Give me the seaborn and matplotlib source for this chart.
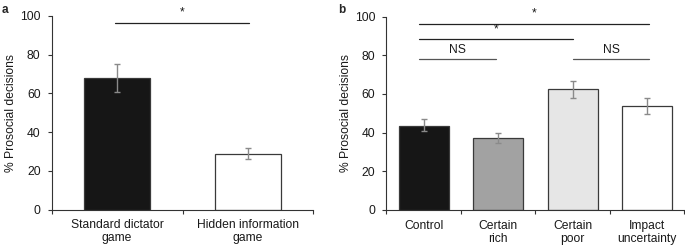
import matplotlib
matplotlib.use("Agg")
import matplotlib.pyplot as plt
import seaborn as sns
import pandas as pd
import numpy as np
from matplotlib.ticker import FixedLocator

sns.set_theme(style="ticks")
plt.rcParams['font.family'] = ['Liberation Sans', 'DejaVu Sans']

# Panel a data
cats_a = ["Standard dictator\ngame", "Hidden information\ngame"]
vals_a = [67.7, 28.7]
err_lo_a = [60.5, 26.0]
err_hi_a = [75.1, 31.6]
colors_a = ["#161616", "#ffffff"]

# Panel b data
cats_b = ["Control", "Certain\nrich", "Certain\npoor", "Impact\nuncertainty"]
vals_b = [43.6, 37.2, 62.4, 53.8]
err_lo_b = [40.6, 34.5, 57.8, 49.8]
err_hi_b = [46.9, 40.0, 66.9, 57.8]
colors_b = ["#161616", "#a2a2a2", "#e6e6e6", "#ffffff"]

yticks = [0, 20, 40, 60, 80, 100]

fig = plt.figure(figsize=(6.85, 2.47), dpi=100)
ax_a = fig.add_axes([0.0755, 0.151, 0.382, 0.785])
ax_b = fig.add_axes([0.564, 0.150, 0.435, 0.783])

FS = 8.7
TXT = "#1a1a1a"


def style_axes(ax, cats, vals, lo, hi, colors, width):
    df = pd.DataFrame({"cat": cats, "val": vals})
    sns.barplot(data=df, x="cat", y="val", hue="cat", palette=colors,
                order=cats, hue_order=cats, legend=False, errorbar=None,
                width=width, edgecolor="#3a3a3a", linewidth=0.9, ax=ax, saturation=1)
    vals_arr = np.array(vals)
    yerr = np.vstack([vals_arr - np.array(lo), np.array(hi) - vals_arr])
    ax.errorbar(np.arange(len(cats)), vals_arr, yerr=yerr, fmt="none",
                ecolor="#8a8a8a", elinewidth=1.0, capsize=2.5, capthick=1.0, zorder=5)
    n = len(cats)
    ax.set_xlim(-0.5, n - 0.5)
    ax.set_ylim(0, 100)
    ax.set_yticks(yticks)
    ax.set_yticklabels([str(t) for t in yticks], fontsize=FS, color=TXT)
    ax.set_xticks(range(n))
    ax.set_xticklabels(cats, fontsize=FS, color=TXT, linespacing=1.1)
    ax.tick_params(axis="x", which="major", length=0, pad=7)
    ax.xaxis.set_minor_locator(FixedLocator(np.arange(-0.5, n, 1.0)))
    ax.tick_params(axis="x", which="minor", length=3, width=0.8, color="#333333", direction="out")
    ax.tick_params(axis="y", length=3, width=0.8, color="#333333", pad=5)
    ax.set_xlabel("")
    ax.set_ylabel("% Prosocial decisions", fontsize=FS, color=TXT, labelpad=2)
    for s in ["top", "right"]:
        ax.spines[s].set_visible(False)
    for s in ["left", "bottom"]:
        ax.spines[s].set_linewidth(0.8)
        ax.spines[s].set_color("#333333")


style_axes(ax_a, cats_a, vals_a, err_lo_a, err_hi_a, colors_a, 0.5)
style_axes(ax_b, cats_b, vals_b, err_lo_b, err_hi_b, colors_b, 0.67)


def sig(ax, x0, x1, y, label, ty, color="#222222", fs=FS):
    ax.plot([x0, x1], [y, y], color=color, lw=0.9, clip_on=False)
    ax.text((x0 + x1) / 2, ty, label, ha="center", va="center", fontsize=fs, color=TXT, clip_on=False)


sig(ax_a, -0.016, 1.01, 96.2, "*", 101.5)
sig(ax_b, -0.06, 3.03, 96.2, "*", 101.5)
sig(ax_b, -0.06, 2.0, 88.3, "*", 93.5)
sig(ax_b, -0.06, 0.97, 78.1, "NS", 82.8, color="#555555")
sig(ax_b, 2.0, 3.03, 78.1, "NS", 82.8, color="#555555")

fig.text(0.003, 0.985, "a", fontsize=8.5, fontweight="bold", va="top", ha="left")
fig.text(0.493, 0.985, "b", fontsize=8.5, fontweight="bold", va="top", ha="left")

fig.savefig("out.png", dpi=100)
